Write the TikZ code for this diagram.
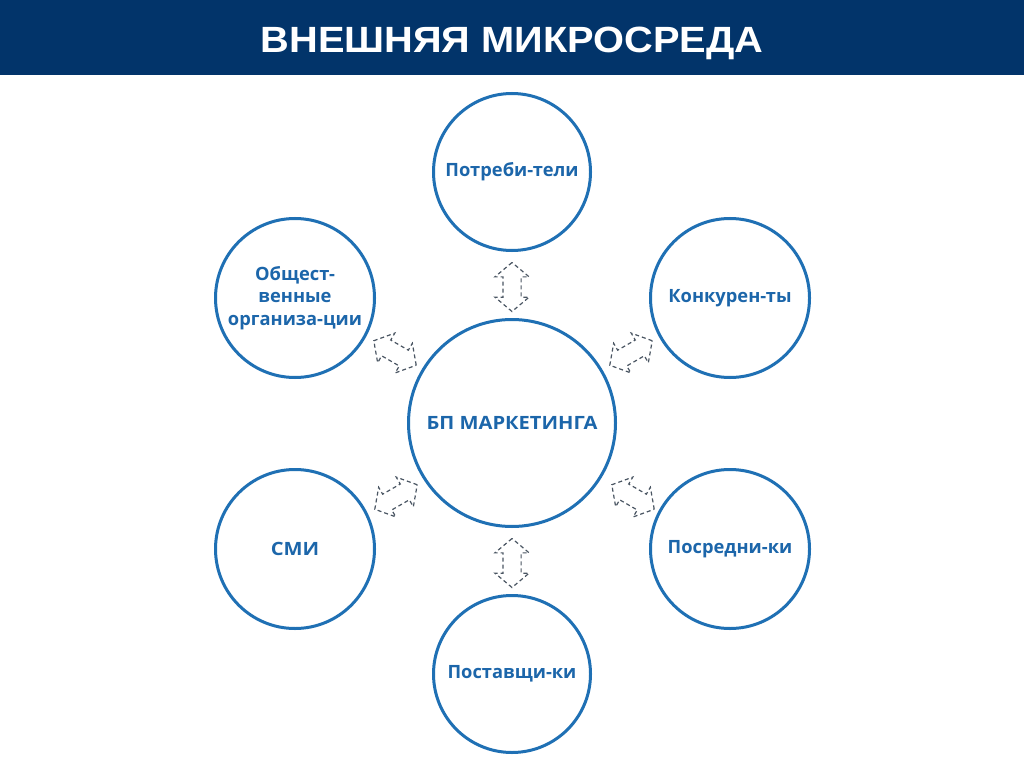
\documentclass[tikz,border=0pt]{standalone}
\usepackage{fontspec}
\setmainfont{Liberation Sans}
\newfontfamily\circfont{Open Sans}
\usetikzlibrary{shapes.arrows}
\definecolor{hdr}{HTML}{02346A}
\definecolor{ring}{HTML}{1F70B4}
\definecolor{ctext}{HTML}{1C66AA}
\definecolor{dashc}{HTML}{4A5663}
\newcommand{\capsw}[1]{\scalebox{1.1}[1]{#1}}
\begin{document}
\begin{tikzpicture}[x=1pt,y=-1pt,
  circ/.style={circle, draw=ring, line width=3pt, fill=white, text=ctext,
    font=\circfont\bfseries\fontsize{18.3}{22.5}\selectfont, align=center, inner sep=0pt},
  dbl/.style={double arrow, draw=dashc, line width=1.2pt, dash pattern=on 4pt off 3pt,
    minimum height=49pt, minimum width=0pt, inner xsep=0pt, inner ysep=8.5pt,
    double arrow head extend=8pt, double arrow tip angle=100}]
\useasboundingbox (0,0) rectangle (1024,767);
\fill[white] (0,0) rectangle (1024,767);
\fill[hdr] (0,0) rectangle (1024,75);
\node[text=white, anchor=base, inner sep=0pt, font=\bfseries\fontsize{36.5}{40}\selectfont] (title) at (512,52.5) {\scalebox{1.09}[1]{ВНЕШНЯЯ МИКРОСРЕДА}};

\node[circ, minimum size=207pt] (c) at (512,423) {\capsw{БП МАРКЕТИНГА}};
\node[circ, minimum size=157pt] (top) at (512,172) {Потреби-тели};
\node[circ, minimum size=159pt] (tl) at (295,298) {Общест-\\венные\\организа-ции};
\node[circ, minimum size=159pt] (tr) at (730,298) {Конкурен-ты};
\node[circ, minimum size=159pt] (bl) at (295,549) {\capsw{СМИ}};
\node[circ, minimum size=159pt] (br) at (730,549) {Посредни-ки};
\node[circ, minimum size=157pt] (bot) at (512,674) {Поставщи-ки};

\node[dbl, rotate=90] (a1) at (512,287) {};
\node[dbl, rotate=90] (a2) at (512,563) {};
\node[dbl, rotate=-30] (a3) at (395,353) {};
\node[dbl, rotate=30] (a4) at (631,353) {};
\node[dbl, rotate=30] (a5) at (396,497) {};
\node[dbl, rotate=-30] (a6) at (633,497) {};
\end{tikzpicture}
\end{document}
